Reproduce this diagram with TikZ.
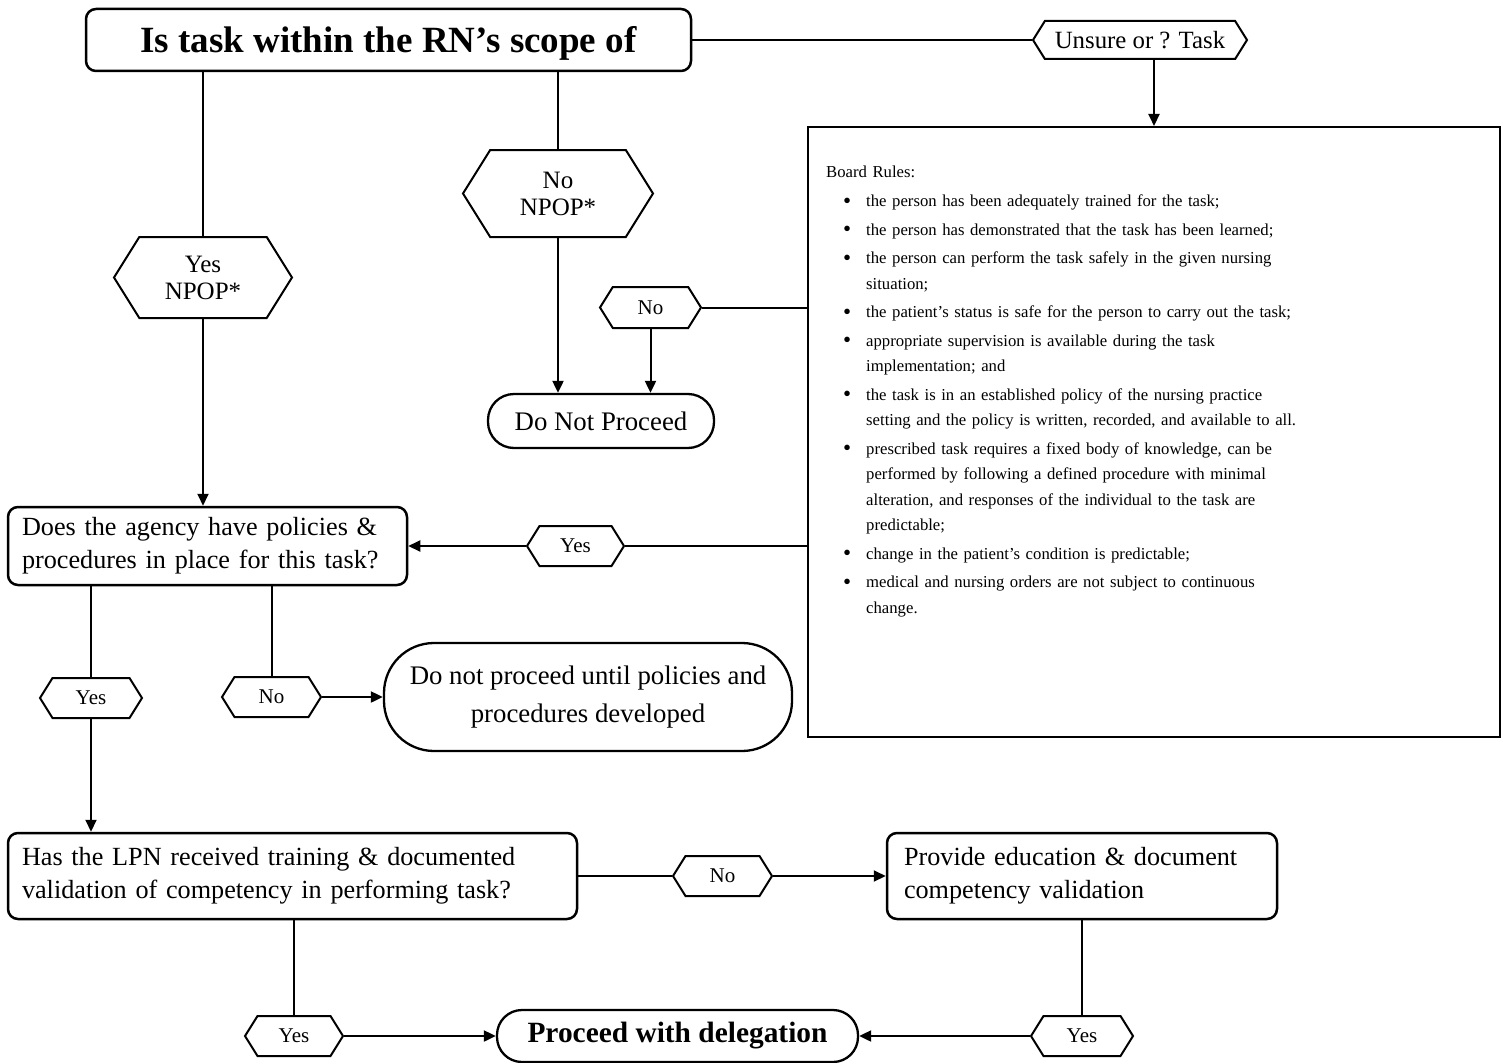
\documentclass[tikz,border=0pt]{standalone}
\usepackage{fontspec}
\setmainfont{Liberation Serif}
\usepackage{enumitem}
\usetikzlibrary{shapes.symbols,arrows.meta}

\begin{document}
\begin{tikzpicture}[x=1pt, y=-1pt,
  line/.style={line width=2pt},
  arr/.style={line, -{Triangle[length=12pt,width=11pt]}},
  box/.style={draw, line width=2.5pt, rounded corners=10pt, inner sep=0pt},
  term/.style={draw, line width=2.3pt, inner sep=0pt, align=center, font=\fontsize{26.8}{38}\selectfont},
  hex/.style={draw, line width=2pt, signal, signal to=west and east, signal pointer angle=116, inner sep=0pt, align=center, font=\fontsize{21}{27}\selectfont},
  main/.style={font=\fontsize{26.2}{33}\selectfont}]
\useasboundingbox (0,0) rectangle (1506,1062);

\node[box, minimum width=605pt, minimum height=62pt, text depth=2pt, font=\fontsize{37}{40}\selectfont\bfseries] (scope) at (388.5,40) {Is task within the RN's scope of};
\node[hex, minimum width=214pt, minimum height=38pt, font=\fontsize{24.8}{27}\selectfont] (unsure) at (1140,40) {Unsure or ? Task};

\node[draw, line width=2pt, minimum width=692pt, minimum height=610pt, inner sep=0pt] (board) at (1154,432) {};
\node[anchor=north west, text width=670pt, inner sep=0pt, align=left, font=\fontsize{16.7}{25.5}\selectfont] (rules) at (826,166) {Board Rules:
\begin{itemize}[leftmargin=40pt, labelsep=15pt, itemsep=3pt, parsep=0pt, topsep=3.5pt, partopsep=0pt, label={\raisebox{-0.2ex}{\fontsize{23}{23}\selectfont\textbullet}}]
\item the person has been adequately trained for the task;
\item the person has demonstrated that the task has been learned;
\item the person can perform the task safely in the given nursing\newline situation;
\item the patient's status is safe for the person to carry out the task;
\item appropriate supervision is available during the task\newline implementation; and
\item the task is in an established policy of the nursing practice\newline setting and the policy is written, recorded, and available to all.
\item prescribed task requires a fixed body of knowledge, can be\newline performed by following a defined procedure with minimal\newline alteration, and responses of the individual to the task are\newline predictable;
\item change in the patient's condition is predictable;
\item medical and nursing orders are not subject to continuous\newline change.
\end{itemize}};

\node[hex, minimum width=190pt, minimum height=87pt, font=\fontsize{25}{27}\selectfont] (nonpop) at (558,193.5) {No\\NPOP*};
\node[hex, minimum width=178pt, minimum height=81pt, font=\fontsize{25}{27}\selectfont] (yesnpop) at (203,277.5) {Yes\\NPOP*};
\node[hex, minimum width=101pt, minimum height=41pt] (noA) at (650.5,307.5) {No};
\node[term, rounded corners=26pt, minimum width=226pt, minimum height=54pt] (dnp) at (601,421) {Do Not Proceed};

\node[box, main, text width=371pt, minimum height=78pt, align=left, inner xsep=14pt] (agency) at (207.5,546) {Does the agency have policies \&\\procedures in place for this task?};
\node[hex, minimum width=97pt, minimum height=40pt] (yesA) at (575.5,546) {Yes};
\node[hex, minimum width=102pt, minimum height=40pt] (yesB) at (91,698) {Yes};
\node[hex, minimum width=99pt, minimum height=40pt] (noB) at (271.5,697) {No};
\node[term, rounded corners=50pt, minimum width=408pt, minimum height=108pt] (until) at (588,697) {Do not proceed until policies and\\procedures developed};

\node[box, main, text width=541pt, minimum height=86pt, align=left, inner xsep=14pt] (lpn) at (292.5,876) {Has the LPN received training \& documented\\validation of competency in performing task?};
\node[hex, minimum width=99pt, minimum height=40pt] (noC) at (722.5,876) {No};
\node[box, main, text width=356pt, minimum height=86pt, align=left, inner xsep=17pt] (provide) at (1082,876) {Provide education \& document\\competency validation};

\node[hex, minimum width=98pt, minimum height=40pt] (yesC) at (294,1036) {Yes};
\node[term, rounded corners=25pt, minimum width=361pt, minimum height=52pt, font=\fontsize{29.4}{32}\selectfont\bfseries] (proceed) at (677.5,1036) {Proceed with delegation};
\node[hex, minimum width=102pt, minimum height=40pt] (yesD) at (1082,1036) {Yes};

\draw[line] (scope.east) -- (unsure.west);
\draw[arr] (unsure.south -| board.north) -- (board.north);
\draw[line] (scope.south -| yesnpop.north) -- (yesnpop.north);
\draw[arr] (yesnpop.south) -- (yesnpop.south |- agency.north);
\draw[line] (scope.south -| nonpop.north) -- (nonpop.north);
\draw[arr] (nonpop.south) -- (nonpop.south |- dnp.north);
\draw[line] (board.west |- noA.east) -- (noA.east);
\draw[arr] (noA.south) -- (noA.south |- dnp.north);
\draw[line] (board.west |- yesA.east) -- (yesA.east);
\draw[arr] (yesA.west) -- (agency.east);
\draw[line] (agency.south -| yesB.north) -- (yesB.north);
\draw[arr] (yesB.south) -- (yesB.south |- lpn.north);
\draw[line] (agency.south -| noB.north) -- (noB.north);
\draw[arr] (noB.east) -- (until.west);
\draw[line] (lpn.east) -- (noC.west);
\draw[arr] (noC.east) -- (provide.west);
\draw[line] (lpn.south -| yesC.north) -- (yesC.north);
\draw[arr] (yesC.east) -- (proceed.west);
\draw[line] (provide.south -| yesD.north) -- (yesD.north);
\draw[arr] (yesD.west) -- (proceed.east);
\end{tikzpicture}
\end{document}
